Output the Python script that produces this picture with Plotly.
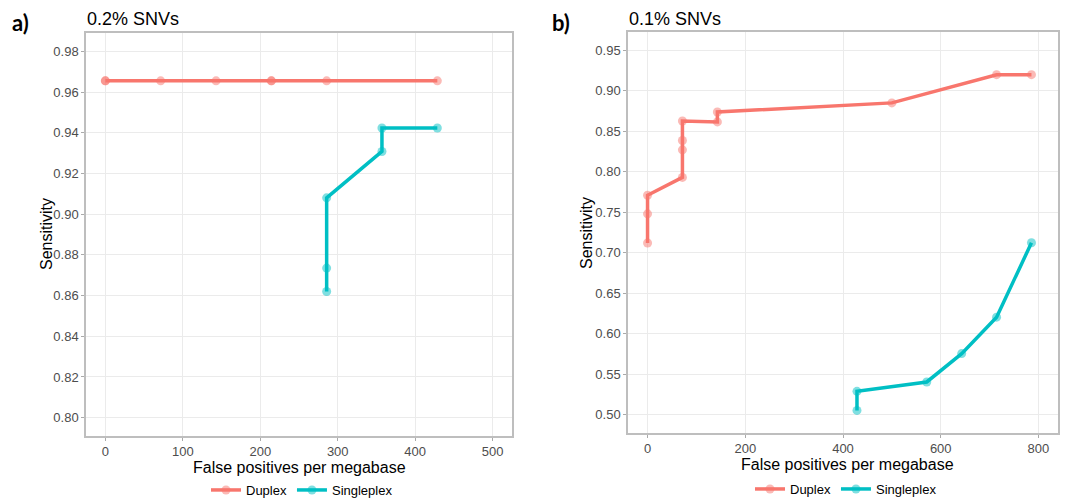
import plotly.graph_objects as go

# ---- data ----
a_duplex_x = [0, 0, 71.4, 142.9, 214.3, 214.3, 285.7, 428.6]
a_duplex_y = [0.9655, 0.9655, 0.9655, 0.9655, 0.9655, 0.9655, 0.9655, 0.9655]
a_single_x = [285.7, 285.7, 285.7, 357.1, 357.1, 428.6]
a_single_y = [0.862, 0.8735, 0.908, 0.9308, 0.9423, 0.9423]

b_duplex_x = [0, 0, 0, 71.4, 71.4, 71.4, 71.4, 142.9, 142.9, 500, 714.3, 785.7]
b_duplex_y = [0.712, 0.748, 0.771, 0.793, 0.827, 0.8385, 0.8627, 0.8615, 0.8738, 0.885, 0.9198, 0.9198]
b_single_x = [428.6, 428.6, 571.4, 642.9, 714.3, 785.7]
b_single_y = [0.5054, 0.5289, 0.5405, 0.5755, 0.6205, 0.7123]

a_xticks = [0, 100, 200, 300, 400, 500]
a_yticks = [0.80, 0.82, 0.84, 0.86, 0.88, 0.90, 0.92, 0.94, 0.96, 0.98]
b_xticks = [0, 200, 400, 600, 800]
b_yticks = [0.50, 0.55, 0.60, 0.65, 0.70, 0.75, 0.80, 0.85, 0.90, 0.95]

series_names = ["Duplex", "Singleplex"]
RED = "#F8766D"
TEAL = "#00BFC4"
FONT = "Liberation Sans, Arial, sans-serif"

W, H = 1072, 500

fig = go.Figure()

def add(x, y, name, color, xa, ya, legend, show):
    fig.add_trace(go.Scatter(
        x=x, y=y, name=name, mode="lines+markers",
        line=dict(color=color, width=3.5),
        marker=dict(color=color, size=9, opacity=0.5),
        xaxis=xa, yaxis=ya, legend=legend, showlegend=show,
    ))

add(a_duplex_x, a_duplex_y, series_names[0], RED, "x", "y", "legend", True)
add(a_single_x, a_single_y, series_names[1], TEAL, "x", "y", "legend", True)
add(b_duplex_x, b_duplex_y, series_names[0], RED, "x2", "y2", "legend2", True)
add(b_single_x, b_single_y, series_names[1], TEAL, "x2", "y2", "legend2", True)

axis_common = dict(
    showline=True, mirror=True, linecolor="#BEBEBE", linewidth=1.5,
    showgrid=True, gridcolor="#EBEBEB", gridwidth=1,
    zeroline=False, ticks="outside", ticklen=3, tickcolor="#AAAAAA",
    tickfont=dict(family=FONT, size=13, color="#4D4D4D"),
)

def px_x(p):
    return p / W

def px_y(p):
    return 1 - p / H

fig.update_layout(
    width=W, height=H,
    margin=dict(l=0, r=0, t=0, b=0, autoexpand=False),
    paper_bgcolor="white", plot_bgcolor="white",
    font=dict(family=FONT),
    xaxis=dict(domain=[px_x(86), px_x(512)], range=[-25, 525],
               tickvals=a_xticks, anchor="y", **axis_common),
    yaxis=dict(domain=[px_y(436), px_y(33)], range=[0.791, 0.989],
               tickvals=a_yticks, tickformat=".2f", anchor="x", **axis_common),
    xaxis2=dict(domain=[px_x(628), px_x(1058)], range=[-40, 840],
                tickvals=b_xticks, anchor="y2", **axis_common),
    yaxis2=dict(domain=[px_y(433), px_y(32)], range=[0.4775, 0.9725],
                tickvals=b_yticks, tickformat=".2f", anchor="x2", **axis_common),
    legend=dict(orientation="h", x=px_x(302), y=px_y(490), xanchor="center", yanchor="middle",
                font=dict(family=FONT, size=13, color="black"), itemwidth=30,
                tracegroupgap=0, bgcolor="rgba(0,0,0,0)"),
    legend2=dict(orientation="h", x=px_x(846), y=px_y(489), xanchor="center", yanchor="middle",
                 font=dict(family=FONT, size=13, color="black"), itemwidth=30,
                 tracegroupgap=0, bgcolor="rgba(0,0,0,0)"),
)

ann = []
def text(x, y, s, size, color="black", bold=False, family=FONT, xanchor="center", angle=0):
    ann.append(dict(x=px_x(x), y=px_y(y), xref="paper", yref="paper", text=("<b>%s</b>" % s) if bold else s,
                    showarrow=False, font=dict(family=family, size=size, color=color),
                    xanchor=xanchor, yanchor="middle", textangle=angle))

text(10, 22, "a)", 22, bold=True, family="Lato, Liberation Sans, sans-serif", xanchor="left")
text(550, 22, "b)", 22, bold=True, family="Lato, Liberation Sans, sans-serif", xanchor="left")
text(85, 19, "0.2% SNVs", 18, xanchor="left")
text(627, 19, "0.1% SNVs", 18, xanchor="left")
text(299, 467, "False positives per megabase", 16)
text(847, 464, "False positives per megabase", 16)
text(46, 234, "Sensitivity", 16, angle=-90)
text(587, 233, "Sensitivity", 16, angle=-90)

fig.update_layout(annotations=ann)

fig.write_html("out.html", config={"displayModeBar": False},
               post_script="document.body.style.margin='0';document.body.style.overflow='hidden';")
